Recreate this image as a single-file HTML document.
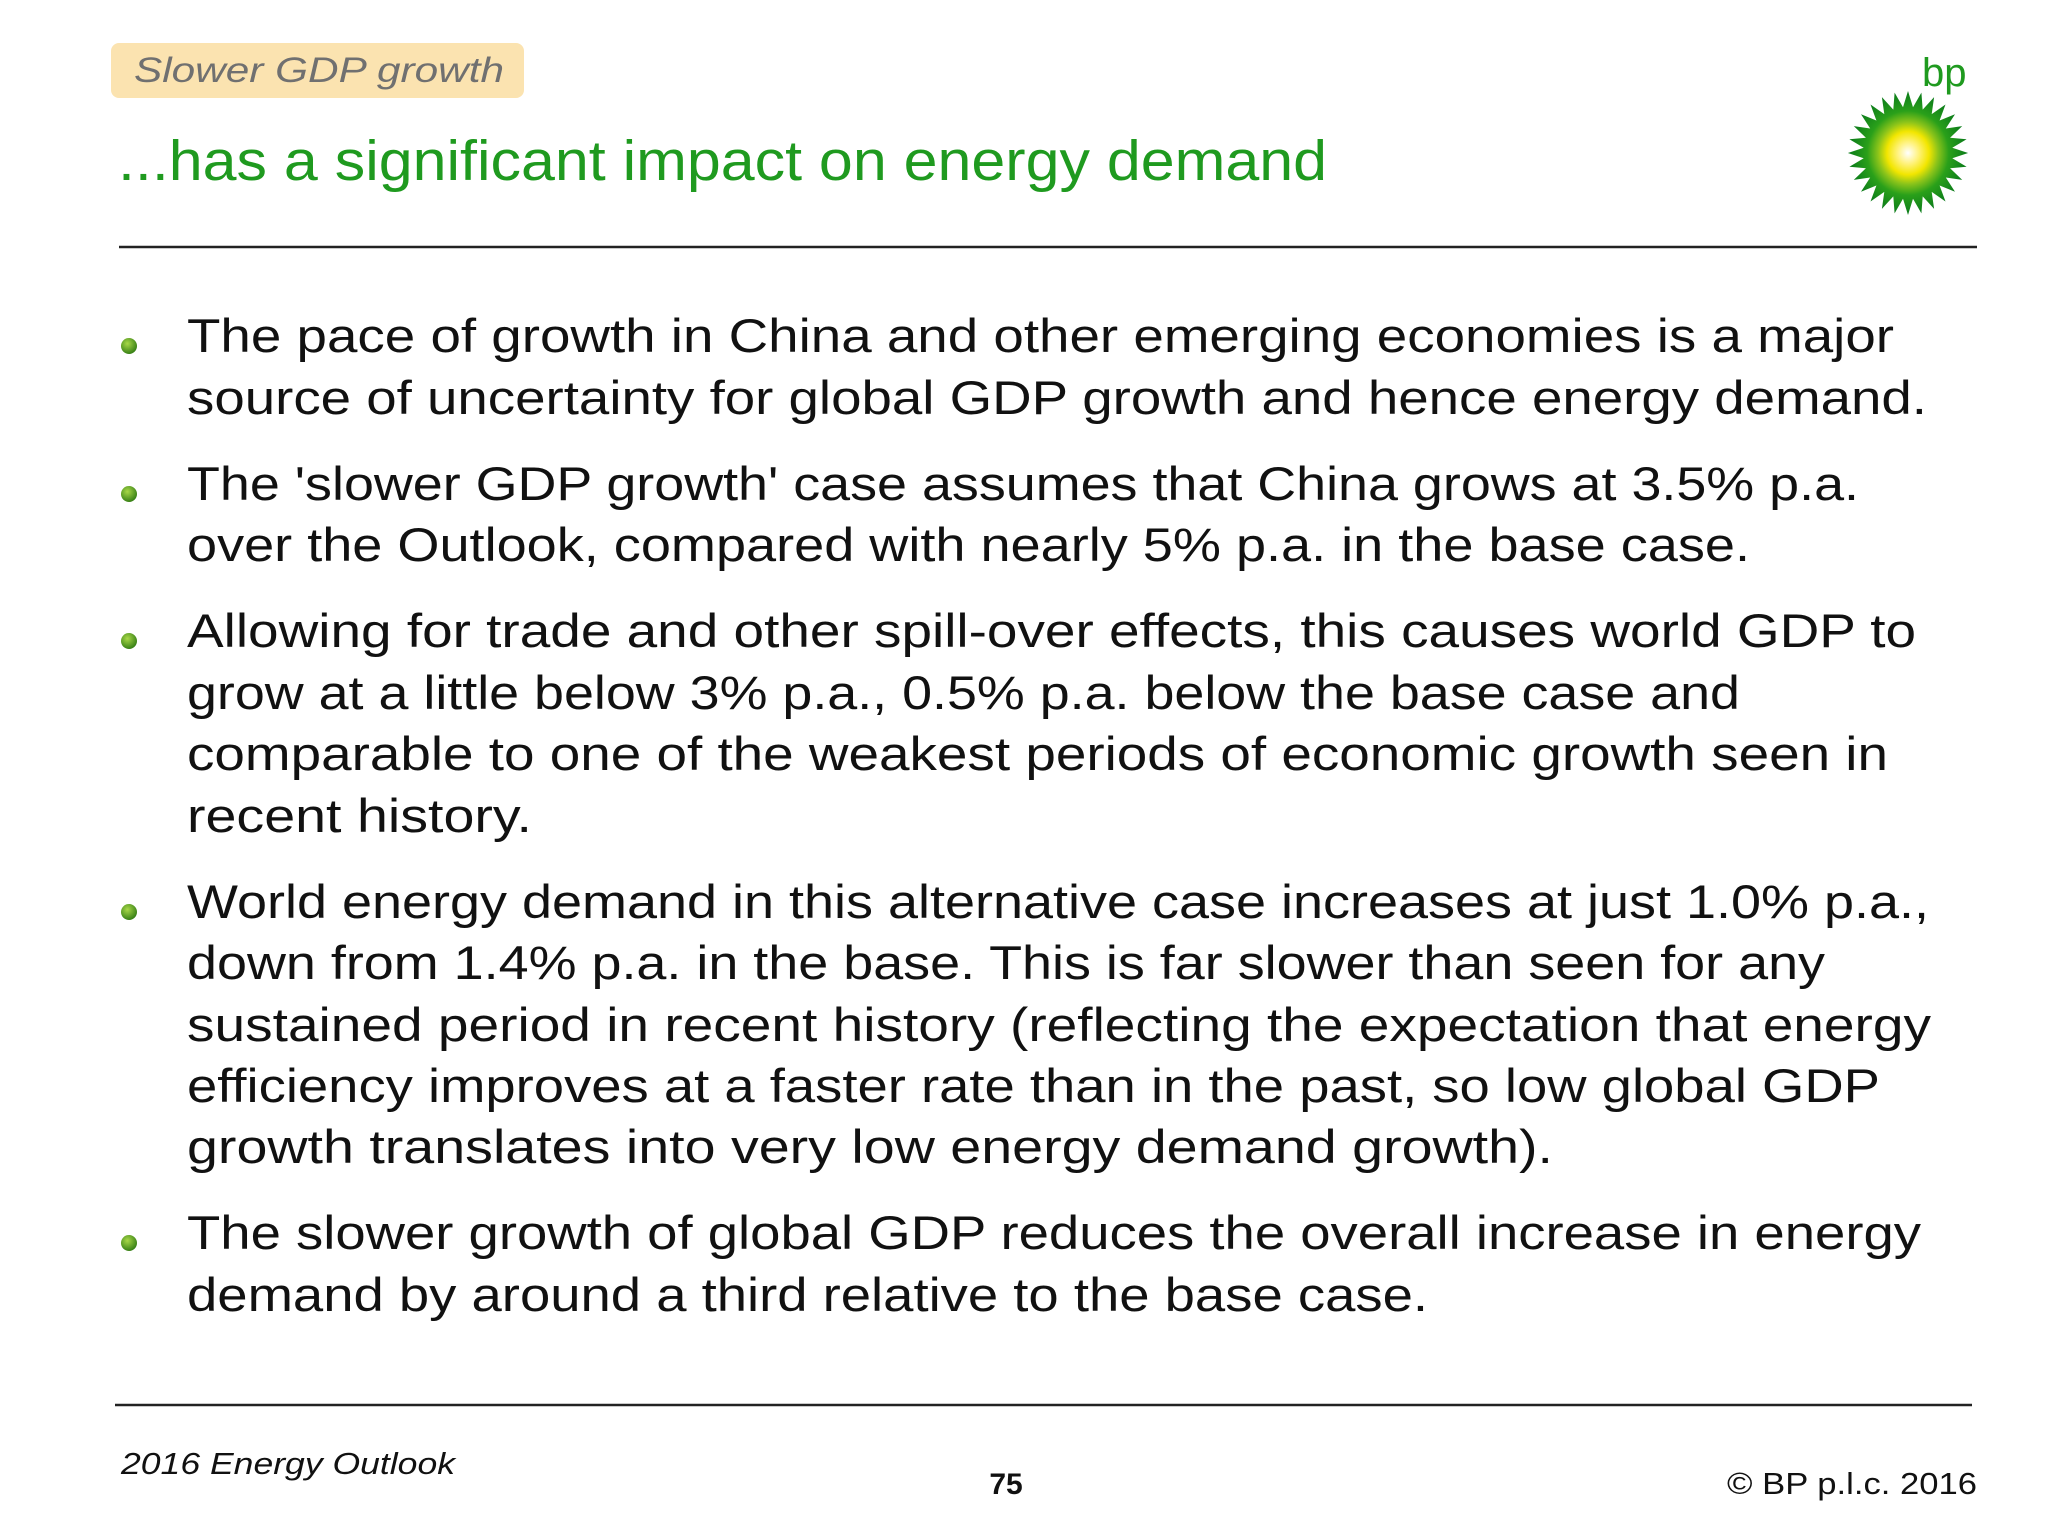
<!DOCTYPE html>
<html><head><meta charset="utf-8"><style>
html,body{margin:0;padding:0;background:#fff;}
svg{display:block}
</style></head><body>
<svg width="2048" height="1536" viewBox="0 0 2048 1536" xmlns="http://www.w3.org/2000/svg" font-family="Liberation Sans, sans-serif">
<defs>
<radialGradient id="dot" cx="40%" cy="35%" r="70%"><stop offset="0" stop-color="#a8d848"/><stop offset="1" stop-color="#2f7a12"/></radialGradient>
<radialGradient id="sun" cx="50%" cy="50%" r="50%"><stop offset="0" stop-color="#ffffff"/><stop offset="0.18" stop-color="#fff27a"/><stop offset="0.35" stop-color="#f2e600"/><stop offset="0.5" stop-color="#8cc41a"/><stop offset="0.68" stop-color="#2aa01a"/><stop offset="1" stop-color="#0a7a1a"/></radialGradient>
</defs>
<rect x="111" y="43" width="413" height="55" rx="8" fill="#fbe3b0"/>
<text x="134" y="82" font-size="35" font-style="italic" fill="#707070" textLength="370" lengthAdjust="spacingAndGlyphs">Slower GDP growth</text>
<text x="118" y="180" font-size="57" fill="#1f9a1f" textLength="1209" lengthAdjust="spacingAndGlyphs">...has a significant impact on energy demand</text>
<g>
<text x="1922" y="86" font-size="40" fill="#1f9a1f">bp</text>
<polygon id="star" fill="url(#sun)" points=""/>
</g>
<line x1="119" y1="247" x2="1977" y2="247" stroke="#222" stroke-width="2.5"/>
<g font-size="47" fill="#111">
<circle cx="129" cy="346" r="8" fill="url(#dot)"/>
<circle cx="129" cy="494" r="8" fill="url(#dot)"/>
<circle cx="129" cy="641" r="8" fill="url(#dot)"/>
<circle cx="129" cy="912" r="8" fill="url(#dot)"/>
<circle cx="129" cy="1243" r="8" fill="url(#dot)"/>
<text x="187" y="352" textLength="1707" lengthAdjust="spacingAndGlyphs">The pace of growth in China and other emerging economies is a major</text>
<text x="187" y="414" textLength="1740" lengthAdjust="spacingAndGlyphs">source of uncertainty for global GDP growth and hence energy demand.</text>
<text x="187" y="500" textLength="1672" lengthAdjust="spacingAndGlyphs">The 'slower GDP growth' case assumes that China grows at 3.5% p.a.</text>
<text x="187" y="561" textLength="1563" lengthAdjust="spacingAndGlyphs">over the Outlook, compared with nearly 5% p.a. in the base case.</text>
<text x="187" y="647" textLength="1729" lengthAdjust="spacingAndGlyphs">Allowing for trade and other spill-over effects, this causes world GDP to</text>
<text x="187" y="709" textLength="1553" lengthAdjust="spacingAndGlyphs">grow at a little below 3% p.a., 0.5% p.a. below the base case and</text>
<text x="187" y="770" textLength="1701" lengthAdjust="spacingAndGlyphs">comparable to one of the weakest periods of economic growth seen in</text>
<text x="187" y="832" textLength="345" lengthAdjust="spacingAndGlyphs">recent history.</text>
<text x="187" y="918" textLength="1742" lengthAdjust="spacingAndGlyphs">World energy demand in this alternative case increases at just 1.0% p.a.,</text>
<text x="187" y="979" textLength="1638" lengthAdjust="spacingAndGlyphs">down from 1.4% p.a. in the base. This is far slower than seen for any</text>
<text x="187" y="1041" textLength="1744" lengthAdjust="spacingAndGlyphs">sustained period in recent history (reflecting the expectation that energy</text>
<text x="187" y="1102" textLength="1693" lengthAdjust="spacingAndGlyphs">efficiency improves at a faster rate than in the past, so low global GDP</text>
<text x="187" y="1163" textLength="1366" lengthAdjust="spacingAndGlyphs">growth translates into very low energy demand growth).</text>
<text x="187" y="1249" textLength="1734" lengthAdjust="spacingAndGlyphs">The slower growth of global GDP reduces the overall increase in energy</text>
<text x="187" y="1311" textLength="1241" lengthAdjust="spacingAndGlyphs">demand by around a third relative to the base case.</text>
</g>
<line x1="115" y1="1405" x2="1972" y2="1405" stroke="#222" stroke-width="2.5"/>
<text x="121" y="1474" font-size="31" font-style="italic" fill="#111" textLength="334" lengthAdjust="spacingAndGlyphs">2016 Energy Outlook</text>
<text x="1006" y="1494" font-size="30" font-weight="bold" fill="#111" text-anchor="middle">75</text>
<text x="1727" y="1494" font-size="31" fill="#111" textLength="250" lengthAdjust="spacingAndGlyphs">© BP p.l.c. 2016</text>
</svg>
<script>
var s=document.getElementById('star'),pts=[],cx=1908,cy=153,n=28;
for(var i=0;i<n*2;i++){var a=Math.PI*i/n,r=(i%2==0)?62:46;pts.push((cx+r*0.97*Math.sin(a)).toFixed(1)+','+(cy-r*Math.cos(a)).toFixed(1));}
s.setAttribute('points',pts.join(' '));
</script>
</body></html>
